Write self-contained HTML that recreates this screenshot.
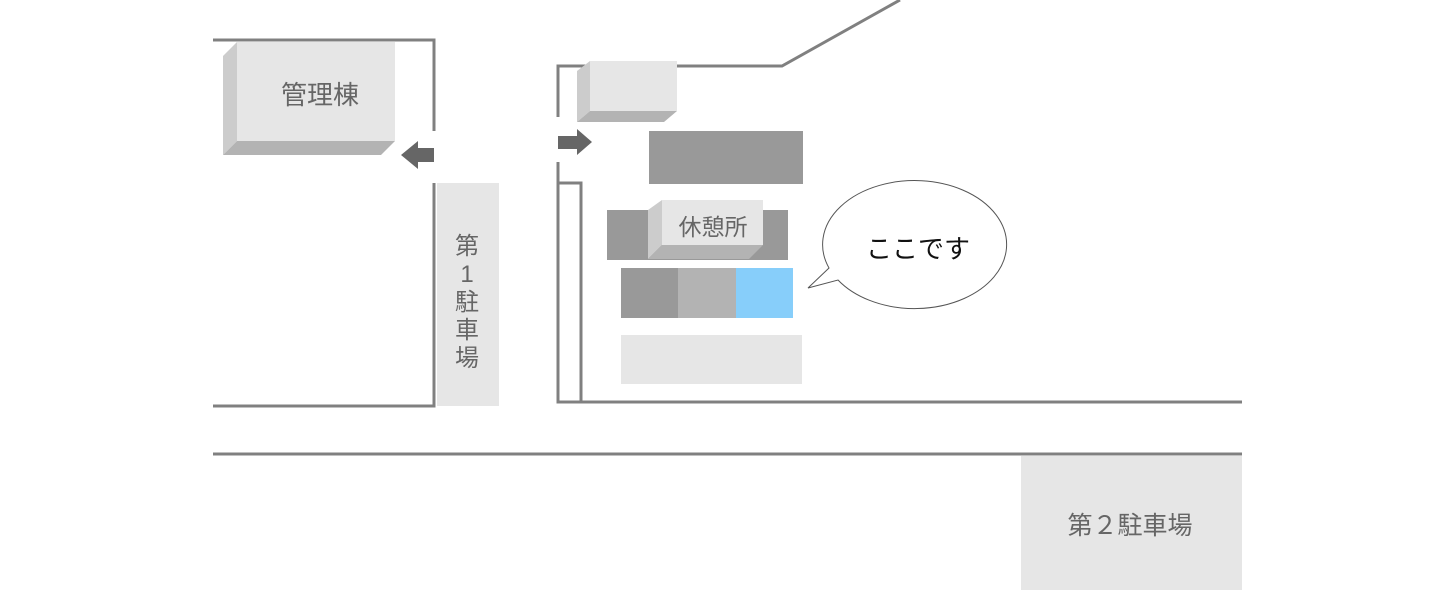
<!DOCTYPE html>
<html><head><meta charset="utf-8"><style>
html,body{margin:0;padding:0;background:#fff;}
svg{display:block;}
text{font-family:"Liberation Sans","Noto Sans CJK JP",sans-serif;fill:#666;}
</style></head><body>
<svg width="1450" height="600" viewBox="0 0 1450 600" xmlns="http://www.w3.org/2000/svg">
<g fill="none" stroke="#808080" stroke-width="3">
<polyline points="213,40 434,40 434,131"/>
<polyline points="434,183 434,406 213,406"/>
<polyline points="558,117 558,66 782,66 900,0"/>
<polyline points="558,162 558,402 1242,402"/>
<polyline points="558,183 581,183 581,402"/>
<line x1="213" y1="454" x2="1242" y2="454"/>
</g>
<rect x="237" y="42" width="158" height="99" fill="#e6e6e6"/>
<polygon points="223,56 237,42 237,141 223,155" fill="#cccccc"/>
<polygon points="223,155 237,141 395,141 381,155" fill="#b3b3b3"/>
<text x="320" y="104" font-size="26" text-anchor="middle">管理棟</text>
<polygon points="434,148 418,148 418,141 401,155 418,169 418,162 434,162" fill="#666"/>
<rect x="437" y="183" width="62" height="223" fill="#e6e6e6"/>
<g font-size="24" text-anchor="middle">
<text x="467" y="254">第</text>
<text x="467" y="282">1</text>
<text x="467" y="310">駐</text>
<text x="467" y="338">車</text>
<text x="467" y="366">場</text>
</g>
<rect x="590" y="61" width="87" height="50" fill="#e6e6e6"/>
<polygon points="577,71 590,61 590,111 577,122" fill="#cccccc"/>
<polygon points="577,122 590,111 677,111 664,122" fill="#b3b3b3"/>
<polygon points="558,136 577,136 577,129 592,142 577,155 577,149 558,149" fill="#666"/>
<rect x="649" y="131" width="154" height="53" fill="#999"/>
<rect x="607" y="210" width="181" height="50" fill="#999"/>
<rect x="662" y="200" width="101" height="45" fill="#e6e6e6"/>
<polygon points="648,210 662,200 662,245 648,259" fill="#cccccc"/>
<polygon points="648,259 662,245 763,245 749,259" fill="#b3b3b3"/>
<text x="713" y="235" font-size="23" text-anchor="middle">休憩所</text>
<rect x="621" y="268" width="57" height="50" fill="#999"/>
<rect x="678" y="268" width="58" height="50" fill="#b3b3b3"/>
<rect x="736" y="268" width="57" height="50" fill="#87cefa"/>
<rect x="621" y="335" width="181" height="49" fill="#e6e6e6"/>
<path d="M 829,268 L 808,288 L 838,280 A 92 64 0 1 0 829,268 Z" fill="#fff" stroke="#555" stroke-width="1"/>
<text x="918" y="258" font-size="26" text-anchor="middle" style="fill:#111">ここです</text>
<rect x="1021" y="456" width="221" height="134" fill="#e6e6e6"/>
<text x="1130" y="534" font-size="25" text-anchor="middle">第２駐車場</text>
</svg>
</body></html>
